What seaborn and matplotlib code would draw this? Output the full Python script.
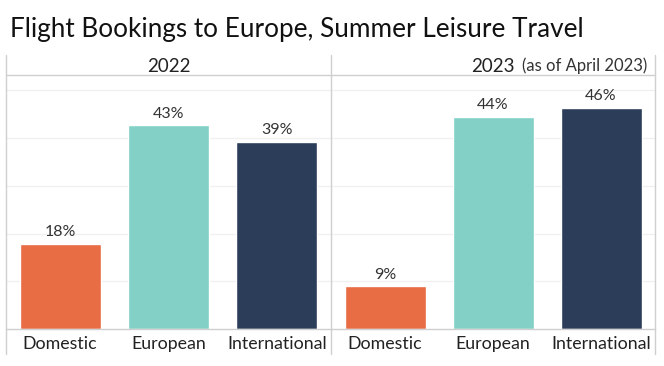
import numpy as np
import pandas as pd
import seaborn as sns
import matplotlib.pyplot as plt
from matplotlib.lines import Line2D

sns.set_theme(style="white")
plt.rcParams['font.family'] = ['Lato', 'DejaVu Sans']

categories = ["Domestic", "European", "International"]
years = ["2022", "2023"]
share_2022 = [17.9, 42.6, 39.2]
share_2023 = [9.1, 44.4, 46.3]
colors = ["#E86C44", "#82D0C6", "#2B3D59"]

df = pd.DataFrame({
    "year": np.repeat(years, len(categories)),
    "category": categories * 2,
    "share": share_2022 + share_2023,
})

W, H = 664, 366
fig = plt.figure(figsize=(W / 100, H / 100), dpi=100)

def fx(px):
    return px / W

def fy(py):
    return 1 - py / H

left, mid, right = 6, 331, 655
top_head, top_plot, base, bottom = 55, 75, 329.3, 354
line_col = "#cfcfcf"

fig.text(fx(10), fy(30), "Flight Bookings to Europe, Summer Leisure Travel",
         fontsize=18.8, color="#111111", va="center", ha="left")

panels = [(left, mid), (mid, right)]
for (x0, x1), year in zip(panels, years):
    ax = fig.add_axes([fx(x0), fy(base), fx(x1 - x0), fy(top_plot) - fy(base)])
    sub = df[df["year"] == year]
    sns.barplot(data=sub, x="category", y="share", hue="category",
                palette=colors, order=categories, hue_order=categories,
                width=0.75, saturation=1, legend=False, ax=ax)
    for cont in ax.containers:
        vals = [b.get_height() for b in cont]
        ax.bar_label(cont, labels=[f"{v:.0f}%" for v in vals], padding=3,
                     fontsize=11.5, color="#333333")
    ax.set_xlim(-0.5, 2.5)
    ax.set_ylim(0, 53.1)
    ax.set_yticks([10, 20, 30, 40, 50])
    ax.set_yticklabels([])
    ax.yaxis.grid(True, color="#f0f0f0", linewidth=1)
    ax.set_axisbelow(True)
    ax.tick_params(axis="both", length=0, labelsize=12.8, labelcolor="#222222", pad=5)
    ax.set_xlabel("")
    ax.set_ylabel("")
    for s in ["top", "right", "left"]:
        ax.spines[s].set_visible(False)
    ax.spines["bottom"].set_color(line_col)
    ax.spines["bottom"].set_linewidth(1)

    cx = (x0 + x1) / 2
    fig.text(fx(cx), fy(66), year, fontsize=13.5, ha="center", va="center", color="#222222")
    if year == "2023":
        fig.text(fx(cx + 29), fy(65.5), "(as of April 2023)", fontsize=12,
                 ha="left", va="center", color="#333333")

# panel borders
for x in (left, mid, right):
    fig.add_artist(Line2D([fx(x), fx(x)], [fy(top_head), fy(bottom)],
                          color=line_col, linewidth=1))
fig.add_artist(Line2D([fx(left), fx(right)], [fy(top_plot), fy(top_plot)],
                      color=line_col, linewidth=1))

fig.savefig("out.png", dpi=100, facecolor="white")
